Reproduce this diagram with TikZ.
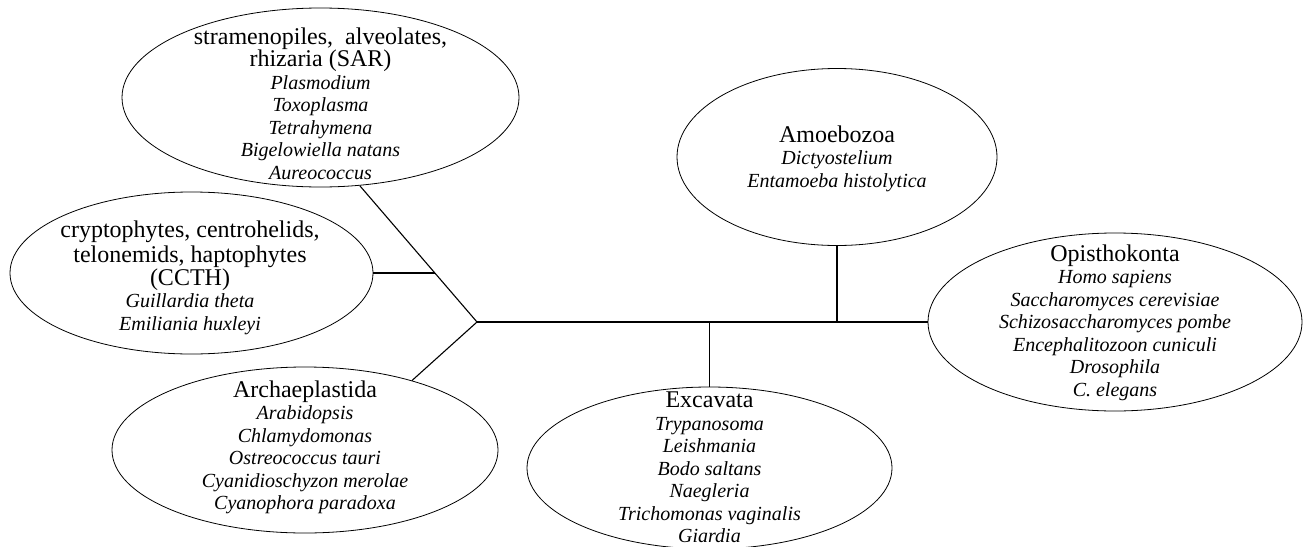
\documentclass[tikz,border=0pt]{standalone}
\usepackage{fontspec}
\setmainfont{Liberation Serif}
\usetikzlibrary{shapes.geometric}
\newcommand{\taxon}[1]{{\fontsize{20}{22.5}\selectfont\itshape #1}}
\begin{document}
\begin{tikzpicture}
    [
    x=1pt, y=-1pt,
    clade/.style={ellipse,draw,line width=0.8pt,inner sep=0pt},
    taxa/.style={align=center,anchor=north,inner sep=0pt,font=\fontsize{24}{22.5}\selectfont},
    branch/.style={line width=1.1pt}
    ]
    \useasboundingbox (0,0) rectangle (1306,546);
    % the six groups
    \node (sar) at (320.5,97.5) [clade,minimum width=397,minimum height=179] {};
    \node (ccth) at (191.5,273) [clade,minimum width=363,minimum height=162] {};
    \node (arch) at (305,450) [clade,minimum width=386,minimum height=166] {};
    \node (exc) at (709.5,468) [clade,minimum width=365,minimum height=162] {};
    \node (amoe) at (837,157) [clade,minimum width=320,minimum height=177] {};
    \node (opis) at (1115,322) [clade,minimum width=374,minimum height=178] {};
    \node (sartext) at (320.5,27.6) [taxa] {stramenopiles,\ \ alveolates,\\ rhizaria (SAR)\\
      \taxon{Plasmodium}\\ \taxon{Toxoplasma}\\ \taxon{Tetrahymena}\\
      \taxon{Bigelowiella natans}\\ \taxon{Aureococcus}};
    \node (ccthtext) at (190,221) [taxa] {cryptophytes, centrohelids,\\[2.5pt] telonemids, haptophytes\\ (CCTH)\\
      \taxon{Guillardia theta}\\ \taxon{Emiliania huxleyi}};
    \node (archtext) at (305,380.6) [taxa] {Archaeplastida\\
      \taxon{Arabidopsis}\\ \taxon{Chlamydomonas}\\ \taxon{Ostreococcus tauri}\\
      \taxon{Cyanidioschyzon merolae}\\ \taxon{Cyanophora paradoxa}};
    \node (exctext) at (709.5,392) [taxa] {Excavata\\
      \taxon{Trypanosoma}\\ \taxon{Leishmania}\\ \taxon{Bodo saltans}\\
      \taxon{Naegleria}\\ \taxon{Trichomonas vaginalis}\\ \taxon{Giardia}};
    \node (amoetext) at (837,125.6) [taxa] {Amoebozoa\\
      \taxon{Dictyostelium}\\ \taxon{Entamoeba histolytica}};
    \node (opistext) at (1115,244.6) [taxa] {Opisthokonta\\
      \taxon{Homo sapiens}\\ \taxon{Saccharomyces cerevisiae}\\ \taxon{Schizosaccharomyces pombe}\\
      \taxon{Encephalitozoon cuniculi}\\ \taxon{Drosophila}\\ \taxon{C. elegans}};
    % tree
    \coordinate (root) at (477,322);
    \coordinate (sarfork) at (434.5,273);
    \draw [branch] (root) to (sar.-66);
    \draw [branch] (ccth.east) to (sarfork);
    \draw [branch] (root) to (arch.33);
    \draw [branch] (root) to (opis.west);
    \draw [branch] (exc.north) to (exc.north |- root);
    \draw [branch] (amoe.south) to (amoe.south |- root);
  \end{tikzpicture}
\end{document}
